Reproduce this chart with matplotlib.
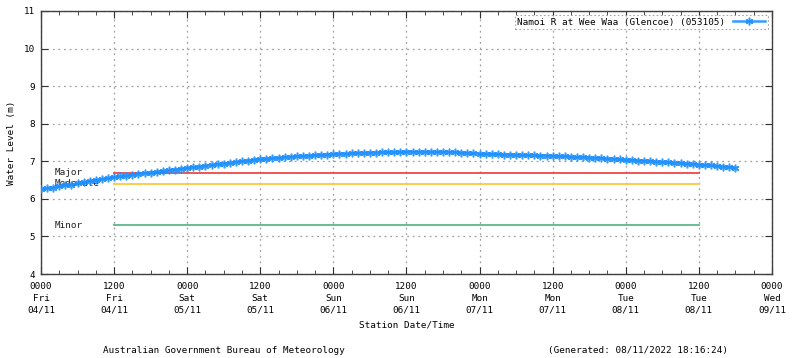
import matplotlib
matplotlib.use("Agg")
import matplotlib.pyplot as plt
from matplotlib.ticker import MultipleLocator

# ---- data ----
station = "Namoi R at Wee Waa (Glencoe) (053105)"
hours = list(range(0, 115))  # hours since Fri 04/11 0000
level = [
    6.25, 6.28, 6.30, 6.33, 6.36, 6.38, 6.41,
    6.44, 6.47, 6.50, 6.52, 6.55, 6.58,
    6.60, 6.62, 6.64, 6.66, 6.68, 6.70,
    6.72, 6.74, 6.76, 6.78, 6.80, 6.82,
    6.84, 6.86, 6.88, 6.90, 6.92, 6.94,
    6.96, 6.98, 7.00, 7.02, 7.04, 7.06,
    7.07, 7.08, 7.09, 7.11, 7.12, 7.13,
    7.14, 7.15, 7.16, 7.17, 7.18, 7.19,
    7.20, 7.20, 7.21, 7.22, 7.22, 7.23,
    7.23, 7.24, 7.24, 7.24, 7.25, 7.25,
    7.25, 7.25, 7.25, 7.25, 7.25, 7.25,
    7.24, 7.24, 7.23, 7.22, 7.21, 7.20,
    7.20, 7.19, 7.19, 7.18, 7.18, 7.17,
    7.17, 7.16, 7.16, 7.15, 7.15, 7.14,
    7.13, 7.13, 7.12, 7.11, 7.11, 7.10,
    7.09, 7.08, 7.07, 7.06, 7.05, 7.04,
    7.03, 7.02, 7.01, 7.00, 6.99, 6.98,
    6.97, 6.96, 6.95, 6.94, 6.93, 6.91,
    6.90, 6.89, 6.87, 6.86, 6.84, 6.83,
]

flood_names = ["Major", "Moderate", "Minor"]
flood_levels = [6.7, 6.4, 5.3]
flood_colors = ["#f04848", "#ffc83c", "#5cb88a"]
flood_start, flood_end = 12, 108

tick_hours = [0, 12, 24, 36, 48, 60, 72, 84, 96, 108, 120]
tick_times = ["0000", "1200"] * 5 + ["0000"]
tick_days = ["Fri", "Fri", "Sat", "Sat", "Sun", "Sun", "Mon", "Mon", "Tue", "Tue", "Wed"]
tick_dates = ["04/11", "04/11", "05/11", "05/11", "06/11", "06/11",
              "07/11", "07/11", "08/11", "08/11", "09/11"]

# ---- plot ----
FS = 6.7
plt.rcParams["font.family"] = ["DejaVu Sans Mono"]
plt.rcParams["font.size"] = FS

fig = plt.figure(figsize=(8.0, 3.58), dpi=100)
ax = fig.add_axes([0.05125, 0.2346, 0.9137, 0.7347])

for name, lv, col in zip(flood_names, flood_levels, flood_colors):
    ax.plot([flood_start, flood_end], [lv, lv], color=col, lw=1.3, zorder=2)
    ax.text(2.2, lv, name, ha="left", va="center", fontsize=FS, color="#202020", zorder=3)

ax.plot(hours, level, color="#1e90ff", lw=1.8, marker=(6, 2, 0), markersize=5.5,
        markeredgewidth=1.1, alpha=0.9, label=station, zorder=4)

ax.set_xlim(0, 120)
ax.set_ylim(4, 11)
ax.set_xticks(tick_hours)
ax.set_xticklabels([f"{t}\n{d}\n{dt}" for t, d, dt in zip(tick_times, tick_days, tick_dates)],
                   linespacing=1.4)
ax.xaxis.set_minor_locator(MultipleLocator(3))
ax.yaxis.set_major_locator(MultipleLocator(1))

ax.tick_params(which="both", direction="in", top=True, right=True, color="#303030")
ax.tick_params(which="major", length=5, pad=6)
ax.tick_params(which="minor", length=3)
ax.tick_params(axis="y", pad=4)

ax.grid(True, which="major", color="#a0a0a0", linestyle=(0, (1.5, 3)), lw=0.9)
for s in ax.spines.values():
    s.set_color("#404040")
    s.set_linewidth(1.0)

ax.set_ylabel("Water Level (m)", labelpad=6)
ax.set_xlabel("Station Date/Time", labelpad=4)

leg = ax.legend(loc="upper right", markerfirst=False, frameon=True, fancybox=False,
                borderpad=0.3, handlelength=3.5, borderaxespad=0.4, fontsize=FS)
leg.get_frame().set_edgecolor("#909090")
leg.get_frame().set_linestyle((0, (1.5, 2)))
leg.get_frame().set_linewidth(0.8)

fig.text(0.28, 0.008, "Australian Government Bureau of Meteorology", ha="center", va="bottom", fontsize=FS)
fig.text(0.798, 0.008, "(Generated: 08/11/2022 18:16:24)", ha="center", va="bottom", fontsize=FS)

fig.savefig("out.png", dpi=100)
